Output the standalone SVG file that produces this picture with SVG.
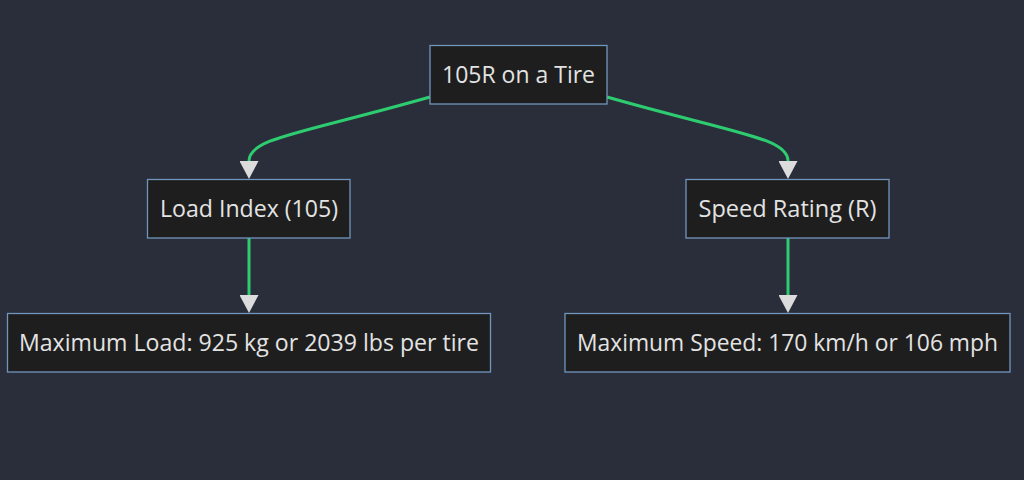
<svg xmlns="http://www.w3.org/2000/svg" width="1024" height="480" viewBox="0 0 1024 480">
<style>
.bg{fill:#2a2e3a}
.node rect{fill:#1e1e1e;stroke:#7196bd;stroke-width:1.3}
.node text{fill:#e3e3e3;font-family:"Open Sans","Noto Sans","DejaVu Sans",sans-serif;font-size:23px;text-anchor:middle}
.edge{fill:none;stroke:#2ecc71;stroke-width:3}
</style>
<defs>
<marker id="arrow" markerUnits="userSpaceOnUse" viewBox="0 0 18 19" refX="0" refY="9.5" markerWidth="18" markerHeight="19" orient="auto">
<path d="M0,0 L18,9.5 L0,19 z" fill="#dcdcdc"/>
</marker>
</defs>
<rect class="bg" x="0" y="0" width="1024" height="480"/>
<g id="connectors">
<path class="edge" d="M430,97 C300,134 249,138 249,161" marker-end="url(#arrow)"/>
<path class="edge" d="M607,97 C737,134 788,138 788,161" marker-end="url(#arrow)"/>
<path class="edge" d="M249,238 L249,295" marker-end="url(#arrow)"/>
<path class="edge" d="M788,238 L788,295" marker-end="url(#arrow)"/>
</g>
<g id="tire" class="node">
<rect x="430" y="45.5" width="177" height="58.5"/>
<text x="518.5" y="83" textLength="153" lengthAdjust="spacingAndGlyphs">105R on a Tire</text>
</g>
<g id="load-index" class="node">
<rect x="147.5" y="179.5" width="202.5" height="58.5"/>
<text x="249" y="217" textLength="178" lengthAdjust="spacingAndGlyphs">Load Index (105)</text>
</g>
<g id="speed-rating" class="node">
<rect x="686" y="179.5" width="203" height="58.5"/>
<text x="787.5" y="217" textLength="178" lengthAdjust="spacingAndGlyphs">Speed Rating (R)</text>
</g>
<g id="max-load" class="node">
<rect x="7.5" y="313.5" width="483" height="58.5"/>
<text x="249" y="351" textLength="460" lengthAdjust="spacingAndGlyphs">Maximum Load: 925 kg or 2039 lbs per tire</text>
</g>
<g id="max-speed" class="node">
<rect x="565" y="313.5" width="445" height="58.5"/>
<text x="787.5" y="351" textLength="421" lengthAdjust="spacingAndGlyphs">Maximum Speed: 170 km/h or 106 mph</text>
</g>
</svg>
